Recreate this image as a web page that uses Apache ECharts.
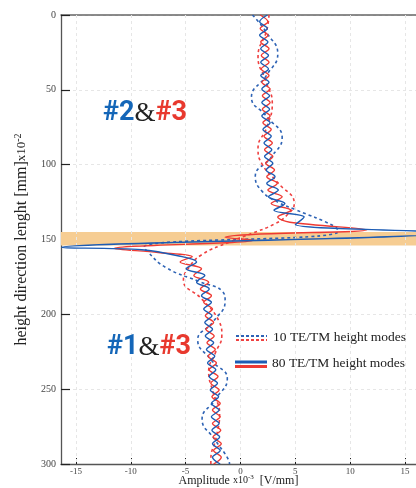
<!DOCTYPE html>
<html>
<head>
<meta charset="utf-8">
<script src="https://cdn.jsdelivr.net/npm/echarts@6/dist/echarts.min.js"></script>
<style>
html, body { margin: 0; padding: 0; background: #fff; }
#chart { width: 416px; height: 488px; }
</style>
</head>
<body>
<div id="chart"></div>
<script>
// height samples (x10^-2 mm) and amplitudes (x10^-3 V/mm)
const solidTopHeights = [0, 4.5, 9, 13.5, 18, 22.5, 27, 31.5, 36, 40.5, 45, 49.5, 54, 58.5, 63, 67.5,
    72, 76.5, 81, 85.5, 90, 94.5, 99, 103.5, 108, 112.5, 117, 121.5, 126, 130.5, 135];
const solidBottomHeights = [165, 169.5, 174, 178.5, 183, 187.5, 192, 196.5, 201, 205.5, 210, 214.5,
    219, 223.5, 228, 232.5, 237, 241.5, 246, 250.5, 255, 259.5, 264, 268.5, 273, 277.5, 282, 286.5,
    291, 295.5, 300];

// 80 modes - blue
const blueSolidTop = [2.45, 1.75, 2.45, 1.75, 2.5, 1.85, 2.55, 1.85, 2.55, 1.85, 2.6, 1.95, 2.65, 1.95,
    2.65, 1.95, 2.7, 2.05, 2.8, 2.15, 2.85, 2.2, 2.95, 2.35, 3.15, 2.4, 3.45, 2.55, 4.05, 3.05, 5.8];
const blueSpikeHeights = [140, 145.5, 155.3, 156.8, 161];
const blueSpikeAmp = [5.0, 19, -16.3, -9, -5.6];
const blueSolidBottom = [-4.0, -4.95, -3.25, -4.0, -2.85, -3.55, -2.65, -3.35, -2.6, -3.25, -2.55, -3.2,
    -2.45, -3.1, -2.35, -3.0, -2.25, -2.85, -2.1, -2.75, -2.0, -2.65, -1.95, -2.65, -1.95, -2.6, -1.9,
    -2.55, -1.85, -2.55, -1.85];

// 80 modes - red
const redSolidTop = [1.8, 2.5, 1.8, 2.5, 1.85, 2.6, 1.9, 2.6, 1.9, 2.6, 1.95, 2.7, 2.0, 2.7, 2.0, 2.7,
    2.05, 2.8, 2.15, 2.9, 2.2, 2.95, 2.3, 3.1, 2.4, 3.35, 2.5, 3.8, 2.8, 4.6, 3.4];
const redSpikeHeights = [138.5, 143.5, 146.5, 148.5, 150.5, 156, 158.7, 161.5];
const redSpikeAmp = [4.5, 11.5, 1.4, -1.4, 1.2, -11.5, -7.5, -4.4];
const redSolidBottom = [-5.5, -3.55, -4.25, -2.9, -3.65, -2.65, -3.35, -2.55, -3.2, -2.45, -3.15, -2.4,
    -3.05, -2.3, -2.95, -2.2, -2.85, -2.05, -2.7, -1.95, -2.6, -1.85, -2.55, -1.85, -2.55, -1.8, -2.5,
    -1.75, -2.45, -1.75, -2.45];

// 10 modes
const blueDashedHeights = [0, 12, 26, 40, 55, 68, 82, 95, 108, 118, 125, 130, 141.3, 144.7, 155, 158,
    168.7, 178, 185, 191, 205, 217, 231, 243, 257, 270, 284, 297, 300];
const blueDashedAmp = [1.1, 2.4, 3.4, 2.4, 1.0, 2.4, 3.8, 2.8, 1.35, 2.0, 3.4, 5.0, 8.6, 8.9, -8.8, -8.5,
    -6.8, -3.8, -1.6, -1.4, -2.5, -3.9, -2.6, -1.2, -2.3, -3.5, -2.3, -1.1, -1.0];
const redDashedHeights = [0, 10, 28, 44, 59, 75, 89, 100, 112, 126, 134, 140, 146, 152, 160, 168.7, 177,
    190, 204, 214, 226, 238, 252, 266, 282, 297, 300];
const redDashedAmp = [2.6, 2.4, 1.6, 2.3, 2.9, 2.4, 1.6, 2.0, 3.4, 4.9, 4.2, 3.0, 1.0, -1.1, -3.5, -4.7,
    -5.2, -3.5, -2.0, -1.7, -2.3, -2.9, -2.5, -1.9, -2.2, -2.7, -2.7];

const xTicks = [-15, -10, -5, 0, 5, 10, 15];
const bandRange = [145, 154];

const SERIF = '"Liberation Serif", "DejaVu Serif", serif';
const BLUE = '#1d5cb4';
const RED = '#ee3a33';

function pairs(xs, ys) {
    return xs.map((v, i) => [v, ys[i]]);
}

const blueSolid = pairs(blueSolidTop, solidTopHeights)
    .concat(pairs(blueSpikeAmp, blueSpikeHeights))
    .concat(pairs(blueSolidBottom, solidBottomHeights));
const redSolid = pairs(redSolidTop, solidTopHeights)
    .concat(pairs(redSpikeAmp, redSpikeHeights))
    .concat(pairs(redSolidBottom, solidBottomHeights));

const chart = echarts.init(document.getElementById('chart'));

chart.setOption({
    animation: false,
    grid: { left: 61, right: 0, top: 15, bottom: 24, containLabel: false, outerBoundsMode: 'none' },
    xAxis: [{
        type: 'value',
        min: -16.36,
        max: 16.0,
        position: 'bottom',
        axisLine: { onZero: false, lineStyle: { color: '#555', width: 1.3 } },
        axisTick: { inside: true, length: 6, customValues: xTicks, lineStyle: { color: '#222' } },
        axisLabel: { customValues: xTicks, fontFamily: SERIF, fontSize: 9, color: '#444', margin: 3 },
        splitLine: { show: false },
        name: 'Amplitude {s|x10}{sup|-3}  [V/mm]',
        nameLocation: 'middle',
        nameGap: 10,
        nameMoveOverlap: false,
        nameTextStyle: {
            fontFamily: SERIF, fontSize: 12, color: '#222', verticalAlign: 'top',
            rich: {
                s: { fontFamily: SERIF, fontSize: 10, color: '#222' },
                sup: { fontFamily: SERIF, fontSize: 7, color: '#222', verticalAlign: 'top', padding: [0, 0, 6, 0] }
            }
        }
    }, {
        type: 'value',
        min: -16.36,
        max: 16.0,
        position: 'top',
        axisLine: { show: true, onZero: false, lineStyle: { color: '#666', width: 1.5 } },
        axisTick: { show: false },
        axisLabel: { show: false },
        splitLine: { show: false }
    }],
    yAxis: {
        type: 'value',
        min: 0,
        max: 300,
        interval: 50,
        inverse: true,
        axisLine: { show: true, onZero: false, lineStyle: { color: '#555', width: 1.3 } },
        axisTick: { show: true, inside: true, length: 9, lineStyle: { color: '#222', width: 1.2 } },
        axisLabel: { fontFamily: SERIF, fontSize: 10, color: '#444', margin: 5 },
        splitLine: { show: true, lineStyle: { color: '#e6e6e6', type: [3, 3] } },
        name: 'height direction lenght [mm]{s|x10}{sup|-2}',
        nameLocation: 'middle',
        nameGap: 30,
        nameMoveOverlap: false,
        nameTextStyle: {
            fontFamily: SERIF, fontSize: 16, color: '#222',
            rich: {
                s: { fontFamily: SERIF, fontSize: 13, color: '#222' },
                sup: { fontFamily: SERIF, fontSize: 10, color: '#222', verticalAlign: 'top', padding: [0, 0, 8, 0] }
            }
        }
    },
    series: [
        {
            // band + vertical grid lines
            type: 'line',
            data: [],
            z: 1,
            silent: true,
            markArea: {
                silent: true,
                itemStyle: { color: '#f6cd93' },
                data: [[{ yAxis: bandRange[0] }, { yAxis: bandRange[1] }]]
            },
            markLine: {
                silent: true,
                symbol: 'none',
                label: { show: false },
                lineStyle: { color: '#e6e6e6', type: [3, 3], width: 1 },
                data: xTicks.map(v => ({ xAxis: v }))
            }
        },
        {
            name: '10 modes blue',
            type: 'line',
            data: pairs(blueDashedAmp, blueDashedHeights),
            smooth: 0.5,
            showSymbol: false,
            z: 3,
            lineStyle: { color: '#2e63b5', width: 1.6, type: [3, 3] }
        },
        {
            name: '10 modes red',
            type: 'line',
            data: pairs(redDashedAmp, redDashedHeights),
            smooth: 0.5,
            showSymbol: false,
            z: 3,
            lineStyle: { color: '#ef4040', width: 1.6, type: [3, 3] }
        },
        {
            name: '80 modes red',
            type: 'line',
            data: redSolid,
            smooth: 0.35,
            showSymbol: false,
            z: 4,
            lineStyle: { color: RED, width: 1.4 }
        },
        {
            name: '80 modes blue',
            type: 'line',
            data: blueSolid,
            smooth: 0.35,
            showSymbol: false,
            z: 5,
            lineStyle: { color: BLUE, width: 1.4 }
        }
    ],
    graphic: [
        {
            type: 'text', left: 103, top: 100, z: 10,
            style: {
                text: '{b|#2}{k|&}{r|#3}',
                rich: {
                    b: { fontFamily: 'Roboto, sans-serif', fontWeight: 'bold', fontSize: 27, fill: '#1466b8' },
                    k: { fontFamily: SERIF, fontSize: 27, fill: '#222' },
                    r: { fontFamily: 'Roboto, sans-serif', fontWeight: 'bold', fontSize: 27, fill: '#e8392e' }
                }
            }
        },
        {
            type: 'text', left: 107, top: 334, z: 10,
            style: {
                text: '{b|#1}{k|&}{r|#3}',
                rich: {
                    b: { fontFamily: 'Roboto, sans-serif', fontWeight: 'bold', fontSize: 27, fill: '#1466b8' },
                    k: { fontFamily: SERIF, fontSize: 27, fill: '#222' },
                    r: { fontFamily: 'Roboto, sans-serif', fontWeight: 'bold', fontSize: 27, fill: '#e8392e' }
                }
            }
        },
        // legend
        { type: 'line', z: 10, shape: { x1: 236, y1: 336, x2: 267, y2: 336 }, style: { stroke: '#2e63b5', lineWidth: 2, lineDash: [3, 2] } },
        { type: 'line', z: 10, shape: { x1: 236, y1: 340, x2: 267, y2: 340 }, style: { stroke: '#ef4040', lineWidth: 2, lineDash: [3, 2] } },
        { type: 'line', z: 10, shape: { x1: 235, y1: 362, x2: 267, y2: 362 }, style: { stroke: BLUE, lineWidth: 3 } },
        { type: 'line', z: 10, shape: { x1: 235, y1: 366.5, x2: 267, y2: 366.5 }, style: { stroke: RED, lineWidth: 3 } },
        {
            type: 'text', left: 273, top: 330, z: 10,
            style: { text: '10 TE/TM height modes', fontFamily: SERIF, fontSize: 13.5, fill: '#222' }
        },
        {
            type: 'text', left: 272, top: 356, z: 10,
            style: { text: '80 TE/TM height modes', fontFamily: SERIF, fontSize: 13.5, fill: '#222' }
        }
    ]
});
</script>
</body>
</html>
